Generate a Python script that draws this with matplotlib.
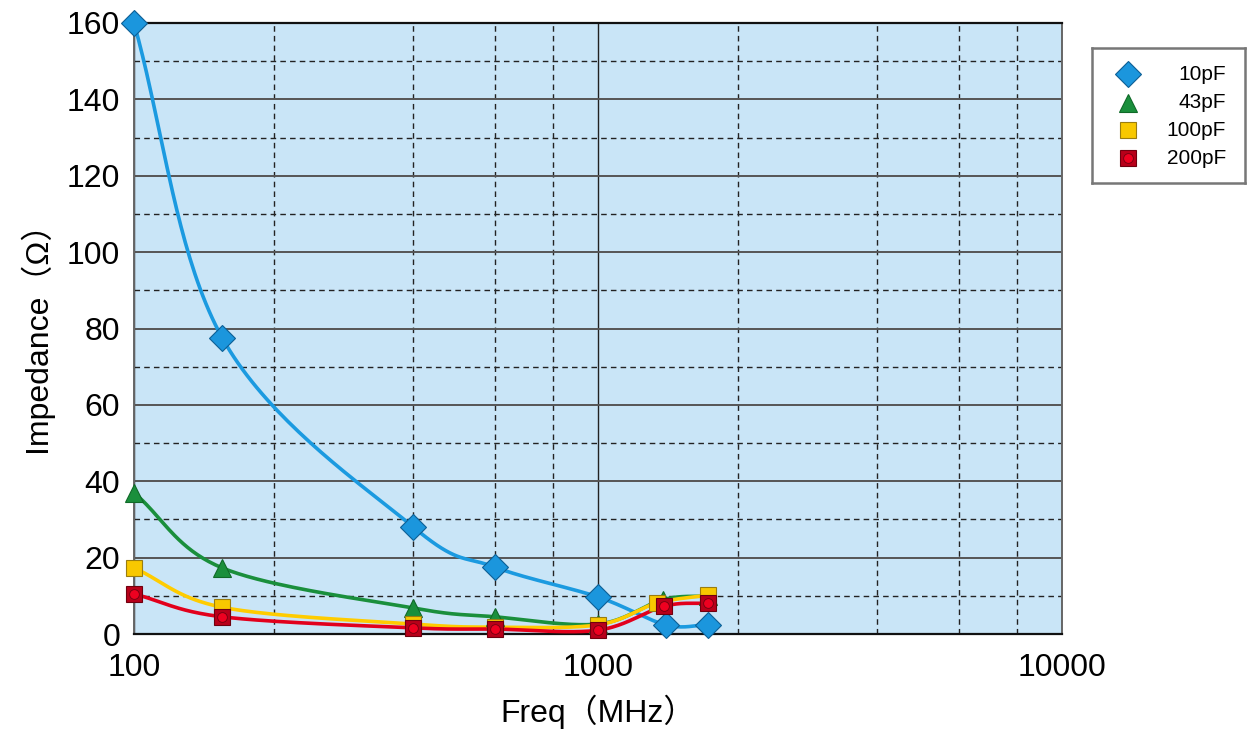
import matplotlib.pyplot as plt
import numpy as np

plt.rcParams['font.family'] = ['Liberation Sans', 'Noto Sans CJK JP', 'DejaVu Sans']

# data
freq = [100, 155, 400, 600, 1000]
z_10pf = [160, 77.5, 28, 17.5, 9.7, 2.4, 2.4]
z_43pf = [37, 17.3, 6.8, 4.5, 2.6, 9.0, 10.0]
z_100pf = [17.3, 7.0, 2.6, 1.8, 2.4, 8.1, 10.2]
z_200pf = [10.5, 4.5, 1.6, 1.3, 1.0, 7.3, 8.1]
f_10pf = freq + [1400, 1730]
f_43pf = freq + [1380, 1730]
f_100pf = freq + [1340, 1730]
f_200pf = freq + [1390, 1730]
labels = ['10pF', '43pF', '100pF', '200pF']


def smooth(xs, ys, n=40):
    # Catmull-Rom through the points, in log-x space
    lx = np.log10(xs)
    ys = np.asarray(ys, float)
    px = np.concatenate([[2 * lx[0] - lx[1]], lx, [2 * lx[-1] - lx[-2]]])
    py = np.concatenate([[2 * ys[0] - ys[1]], ys, [2 * ys[-1] - ys[-2]]])
    outx, outy = [], []
    t = np.linspace(0, 1, n)
    for i in range(1, len(px) - 2):
        for p, out in ((px, outx), (py, outy)):
            p0, p1, p2, p3 = p[i - 1], p[i], p[i + 1], p[i + 2]
            out.extend(0.5 * ((2 * p1) + (-p0 + p2) * t
                              + (2 * p0 - 5 * p1 + 4 * p2 - p3) * t ** 2
                              + (-p0 + 3 * p1 - 3 * p2 + p3) * t ** 3))
    return 10 ** np.array(outx), np.array(outy)


fig = plt.figure(figsize=(12.47, 7.31), dpi=100)
ax = fig.add_axes([134 / 1247, 97 / 731, 928 / 1247, 611 / 731])
ax.set_facecolor('#c9e5f7')

styles = [
    ('#1b9ae0', dict(marker='D', ms=13, mfc='#1b96dd', mec='#0d5f95')),
    ('#1a8f3c', dict(marker='^', ms=13, mfc='#1a8f3c', mec='#0f6a28')),
    ('#ffcc00', dict(marker='s', ms=12, mfc='#f8c800', mec='#9a7d10')),
    ('#e2001c', dict(marker='s', ms=11, mfc='#b8001a', mec='#70000f')),
]
dot = dict(marker='o', ms=7, mfc='#ee0020', mec='#70000f', mew=0.6)
data = [(f_10pf, z_10pf), (f_43pf, z_43pf), (f_100pf, z_100pf), (f_200pf, z_200pf)]

for (fx, zy), (col, mk) in zip(data, styles):
    sx, sy = smooth(fx, zy)
    ax.plot(sx, sy, color=col, lw=2.6, zorder=3, solid_capstyle='round')
for i, ((fx, zy), (col, mk)) in enumerate(zip(data, styles)):
    ax.plot(fx, zy, ls='none', mew=0.8, zorder=4, clip_on=False, **mk)
    if i == 3:
        ax.plot(fx, zy, ls='none', zorder=5, clip_on=False, **dot)

ax.set_xscale('log')
ax.set_xlim(100, 10000)
ax.set_ylim(0, 160)
ax.set_yticks(np.arange(0, 161, 20))
ax.set_yticks(np.arange(10, 160, 20), minor=True)
ax.set_xticks([100, 1000, 10000])
ax.set_xticklabels(['100', '1000', '10000'])
ax.set_xticks([200, 400, 600, 800, 2000, 4000, 6000, 8000], minor=True)
ax.xaxis.set_minor_formatter(plt.NullFormatter())
ax.tick_params(which='both', length=0, labelsize=23)
ax.tick_params(axis='y', pad=10)
ax.tick_params(axis='x', pad=14)

ax.grid(True, which='major', axis='y', color='#555555', lw=1.4, ls='-')
ax.grid(True, which='minor', axis='y', color='#222222', lw=1.0, ls=(0, (4, 3)))
ax.grid(True, which='major', axis='x', color='#222222', lw=1.0, ls='-')
ax.grid(True, which='minor', axis='x', color='#222222', lw=1.0, ls=(0, (4, 3)))
ax.set_axisbelow(True)

for side in ['top', 'bottom']:
    ax.spines[side].set_color('#111111')
    ax.spines[side].set_linewidth(1.6)
for side in ['left', 'right']:
    ax.spines[side].set_color('#666666')
    ax.spines[side].set_linewidth(1.4)

ax.set_xlabel('Freq（MHz）', fontsize=23, labelpad=8)
ax.set_ylabel('Impedance（Ω）', fontsize=23, labelpad=10)

# legend box drawn in its own small axes
lax = fig.add_axes([1092 / 1247, 1 - 183 / 731, 153 / 1247, 135 / 731])
lax.set_xlim(0, 153)
lax.set_ylim(135, 0)
lax.set_xticks([])
lax.set_yticks([])
for s in lax.spines.values():
    s.set_color('#777777')
    s.set_linewidth(1.8)
rows = [26, 55, 82, 110]
for y, lab, (col, mk) in zip(rows, labels, styles):
    lax.plot([36], [y], ls='none', mew=0.8, **mk)
    if lab == '200pF':
        lax.plot([36], [y], ls='none', **dot)
    lax.text(134, y, lab, ha='right', va='center', fontsize=15)

fig.savefig('out.png', dpi=100)
